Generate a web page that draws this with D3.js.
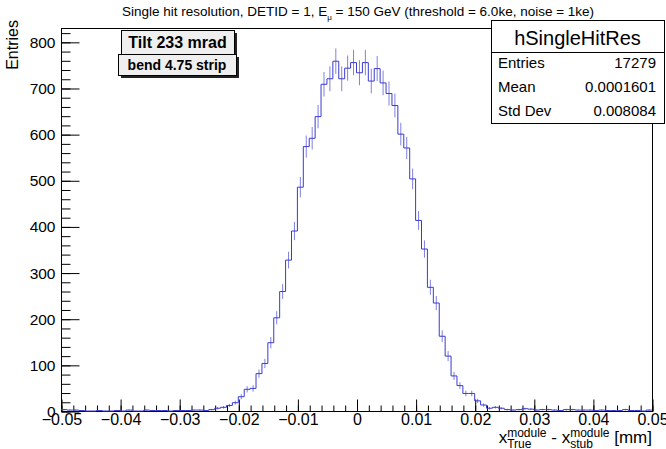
<!DOCTYPE html>
<html>
<head>
<meta charset="utf-8">
<script src="https://cdn.jsdelivr.net/npm/d3@7"></script>
<style>
    body { margin: 0; background: #fff; }
    svg { font-family: "Liberation Sans", Arial, sans-serif; }
    .tick text { font-family: "Liberation Sans", Arial, sans-serif; }
</style>
</head>
<body>
<div id="chart-area"></div>
<script>

// Histogram binning (range and bin width of the x axis)
var histRange = [-0.05, 0.05];
var binWidth = 0.001;

// Bin contents, one per bin, left to right
var binValues = [
    3, 2, 2, 1, 0, 0, 1, 0, 0, 1,
    0, 2, 0, 0, 2, 1, 1, 1, 0, 1,
    1, 1, 2, 2, 1, 3, 6, 8, 12, 18,
    31, 47, 49, 81, 103, 148, 202, 259, 327, 390,
    485, 573, 591, 638, 708, 720, 758, 720, 743, 755,
    733, 755, 715, 742, 711, 688, 662, 600, 570, 503,
    413, 351, 268, 234, 162, 119, 76, 55, 38, 38,
    22, 13, 6, 8, 6, 3, 2, 3, 5, 4,
    2, 3, 3, 2, 1, 3, 3, 2, 2, 2,
    1, 2, 1, 1, 1, 3, 1, 1, 0, 2
];

// Axis ticks
var xTicks = [-0.05, -0.04, -0.03, -0.02, -0.01, 0, 0.01, 0.02, 0.03, 0.04, 0.05];
var xTickLabels = ["\u22120.05", "\u22120.04", "\u22120.03", "\u22120.02", "\u22120.01", "0", "0.01", "0.02", "0.03", "0.04", "0.05"];
var yTicks = [0, 100, 200, 300, 400, 500, 600, 700, 800];
var yMax = 830;

// Stats box
var statsName = "hSingleHitRes";
var statsLabels = ["Entries", "Mean", "Std Dev"];
var statsValues = ["17279", "0.0001601", "0.008084"];

// Text boxes
var labelTilt = "Tilt 233 mrad";
var labelBend = "bend 4.75 strip";


HistVis = function(_parentElement){
    this.parentElement = _parentElement;
    this.initVis();
};

HistVis.prototype.initVis = function(){
    var vis = this;

    vis.frame = { left: 61, right: 652, top: 28, bottom: 411 };

    vis.svg = d3.select("#" + vis.parentElement).append("svg")
        .attr("width", 666)
        .attr("height", 449);

    vis.x = d3.scaleLinear()
        .domain(histRange)
        .range([vis.frame.left, vis.frame.right]);

    vis.y = d3.scaleLinear()
        .domain([0, yMax])
        .range([vis.frame.bottom, vis.frame.top]);

    vis.wrangleData();
};

HistVis.prototype.wrangleData = function(){
    var vis = this;

    vis.bins = binValues.map(function(v, i){
        var lo = histRange[0] + i * binWidth;
        return { lo: lo, hi: lo + binWidth, mid: lo + binWidth / 2, value: v };
    });

    vis.updateVis();
};

HistVis.prototype.updateVis = function(){
    var vis = this;
    var fr = vis.frame;

    // Frame
    vis.svg.append("rect")
        .attr("x", fr.left + 0.5)
        .attr("y", fr.top + 0.5)
        .attr("width", fr.right - fr.left)
        .attr("height", fr.bottom - fr.top)
        .attr("fill", "none")
        .attr("stroke", "#000")
        .attr("stroke-width", 1);

    // Minor ticks x
    var xMinor = d3.range(-50, 51, 2).map(function(d){ return d / 1000; });
    vis.svg.append("g")
        .attr("transform", "translate(0.5," + (fr.bottom + 0.5) + ")")
        .call(d3.axisBottom(vis.x).tickValues(xMinor).tickSize(-6).tickFormat(""))
        .call(function(g){ g.select(".domain").remove(); });

    // Major ticks x with labels
    vis.svg.append("g")
        .attr("class", "x-axis")
        .attr("transform", "translate(0.5," + (fr.bottom + 0.5) + ")")
        .call(d3.axisBottom(vis.x).tickValues(xTicks).tickSize(-12).tickPadding(2)
            .tickFormat(function(d, i){ return xTickLabels[i]; }))
        .call(function(g){ g.select(".domain").remove(); })
        .selectAll("text")
        .attr("font-size", 16)
        .attr("fill", "#000");

    // Minor ticks y
    var yMinor = d3.range(0, yMax, 20);
    vis.svg.append("g")
        .attr("transform", "translate(" + (fr.left + 0.5) + ",0.5)")
        .call(d3.axisLeft(vis.y).tickValues(yMinor).tickSize(-9).tickFormat(""))
        .call(function(g){ g.select(".domain").remove(); });

    vis.svg.append("g")
        .attr("class", "y-axis")
        .attr("transform", "translate(" + (fr.left + 0.5) + ",0.5)")
        .call(d3.axisLeft(vis.y).tickValues(yTicks).tickSize(-18).tickPadding(6))
        .call(function(g){ g.select(".domain").remove(); })
        .selectAll("text")
        .attr("font-size", 15.5)
        .attr("fill", "#000");

    // Histogram step line
    var pts = vis.bins.map(function(b){ return [b.lo, b.value]; });
    pts.push([histRange[1], binValues[binValues.length - 1]]);
    var line = d3.line()
        .x(function(d){ return vis.x(d[0]); })
        .y(function(d){ return vis.y(d[1]); })
        .curve(d3.curveStepAfter);

    // Error bars
    vis.svg.selectAll(".err")
        .data(vis.bins.filter(function(b){ return b.value > 0; }))
        .enter().append("line")
        .attr("class", "err")
        .attr("x1", function(d){ return vis.x(d.mid); })
        .attr("x2", function(d){ return vis.x(d.mid); })
        .attr("y1", function(d){ return vis.y(d.value - Math.sqrt(d.value)); })
        .attr("y2", function(d){ return vis.y(d.value + Math.sqrt(d.value)); })
        .attr("stroke", "#4a4ad6")
        .attr("stroke-opacity", 0.7)
        .attr("stroke-width", 1);

    vis.svg.append("path")
        .datum(pts)
        .attr("d", line)
        .attr("fill", "none")
        .attr("stroke", "#3a3ad0")
        .attr("stroke-width", 1);

    // Title
    vis.richText([
        { t: "Single hit resolution, DETID = 1, E" },
        { t: "\u03bc", sub: true },
        { t: " = 150 GeV (threshold = 6.0ke, noise = 1ke)" }
    ], 358, 16, 13.5, 8, "middle");

    // X axis title
    vis.richText([
        { t: "x" },
        { sup: "module", sub: "True" },
        { t: " - x" },
        { sup: "module", sub: "stub" },
        { t: " [mm]" }
    ], 652, 443, 17, 12, "end", 0.33, 0.27);

    // Y axis title
    vis.svg.append("text")
        .attr("transform", "translate(18,20) rotate(-90)")
        .attr("text-anchor", "end")
        .attr("font-size", 16)
        .text("Entries");

    // Stats box
    var sb = { x: 491, y: 20, w: 173, h: 103 };
    vis.svg.append("rect")
        .attr("x", sb.x + 0.5).attr("y", sb.y + 0.5)
        .attr("width", sb.w).attr("height", sb.h)
        .attr("fill", "#fff").attr("stroke", "#000");
    vis.svg.append("line")
        .attr("x1", sb.x).attr("x2", sb.x + sb.w)
        .attr("y1", 52.5).attr("y2", 52.5)
        .attr("stroke", "#000");
    vis.svg.append("text")
        .attr("x", sb.x + sb.w / 2).attr("y", 45)
        .attr("text-anchor", "middle")
        .attr("font-size", 20)
        .text(statsName);
    statsLabels.forEach(function(lab, i){
        var yy = 68 + i * 24;
        vis.svg.append("text")
            .attr("x", 498).attr("y", yy)
            .attr("font-size", 15)
            .text(lab);
        vis.svg.append("text")
            .attr("x", 656).attr("y", yy)
            .attr("text-anchor", "end")
            .attr("font-size", 15)
            .text(statsValues[i]);
    });

    // Text boxes with shadow
    vis.textBox(labelTilt, 121, 30, 113, 25, 16);
    vis.textBox(labelBend, 118, 54, 118, 21, 14);
};

HistVis.prototype.textBox = function(txt, x, y, w, h, fs){
    var vis = this;
    vis.svg.append("rect")
        .attr("x", x + 3).attr("y", y + 3)
        .attr("width", w).attr("height", h)
        .attr("fill", "#222");
    vis.svg.append("rect")
        .attr("x", x + 0.5).attr("y", y + 0.5)
        .attr("width", w).attr("height", h)
        .attr("fill", "#efefef").attr("stroke", "#000");
    vis.svg.append("text")
        .attr("x", x + w / 2).attr("y", y + h / 2 + fs * 0.36)
        .attr("text-anchor", "middle")
        .attr("font-size", fs)
        .attr("font-weight", "bold")
        .text(txt);
};

// Text with stacked sub/superscripts; pieces placed left to right then aligned
HistVis.prototype.richText = function(pieces, x, y, fs, sfs, anchor, supOff, subOff){
    var vis = this;
    supOff = supOff || 0.42;
    subOff = subOff || 0.3;
    var g = vis.svg.append("g");
    var cursor = 0;
    pieces.forEach(function(p){
        if (p.t !== undefined && !p.sub) {
            var t = g.append("text").attr("x", cursor).attr("y", y)
                .attr("font-size", fs).attr("xml:space", "preserve").text(p.t);
            cursor += t.node().getComputedTextLength();
        } else {
            var wMax = 0;
            if (p.sup) {
                var s = g.append("text").attr("x", cursor).attr("y", y - fs * supOff)
                    .attr("font-size", sfs).text(p.sup);
                wMax = Math.max(wMax, s.node().getComputedTextLength());
            }
            var subTxt = p.sub === true ? p.t : p.sub;
            if (subTxt) {
                var b = g.append("text").attr("x", cursor).attr("y", y + fs * subOff)
                    .attr("font-size", sfs).text(subTxt);
                wMax = Math.max(wMax, b.node().getComputedTextLength());
            }
            cursor += wMax;
        }
    });
    var shift = anchor === "middle" ? x - cursor / 2 : (anchor === "end" ? x - cursor : x);
    g.attr("transform", "translate(" + shift + ",0)");
};

var histVis = new HistVis("chart-area");

</script>
</body>
</html>
